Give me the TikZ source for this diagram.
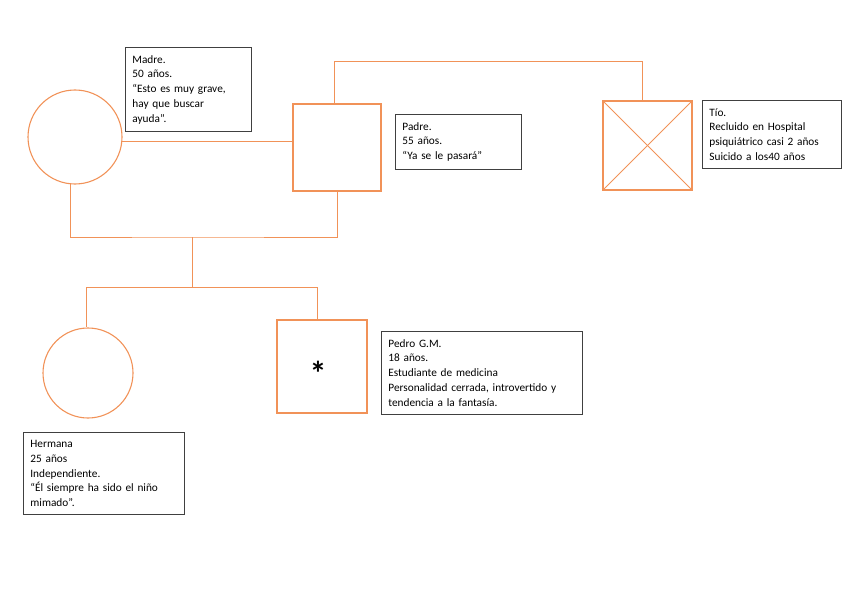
\documentclass[tikz,border=0pt]{standalone}
\usepackage{fontspec}
\setmainfont{Carlito}
\usepackage{tikz}
\usetikzlibrary{positioning,calc}
\definecolor{lazo}{RGB}{241,146,88}
\definecolor{marco}{RGB}{64,64,64}

\begin{document}
\begin{tikzpicture}[x=1pt,y=-1pt]
            \tikzset{
                mujer/.style={
                    draw=lazo,
                    line width=1.1pt,
                    circle,
                    inner sep=0pt
                }
            }
            \tikzset{
                hombre/.style={
                    draw=lazo,
                    line width=1.1pt,
                    rectangle,
                    inner sep=0pt
                }
            }
            \tikzset{
                nota/.style={
                    draw=marco,
                    line width=0.8pt,
                    anchor=north west,
                    align=left,
                    inner xsep=7pt,
                    inner ysep=8pt,
                    font=\fontsize{11.3}{14.7}\selectfont
                }
            }
            \tikzset{
                linea/.style={
                    lazo,
                    line width=1pt
                }
            }

            \useasboundingbox (0,0) rectangle (848,599);

            % padres y tio
            \node[mujer, minimum size=94pt] (madre) at (75,137) {};
            \node[hombre, minimum width=88pt, minimum height=87pt] (padre) at (337,147.5) {};
            \node[hombre, minimum width=89pt, minimum height=89pt] (tio) at (647.5,145.5) {};
            \draw[linea] (tio.north west) -- (tio.south east);
            \draw[linea] (tio.south west) -- (tio.north east);

            % hijos
            \node[mujer, minimum size=90pt] (hermana) at (88,373) {};
            \node[hombre, minimum width=90pt, minimum height=93pt] (pedro) at (322,366.5) {};
            \node[font=\fontsize{34}{34}\selectfont\bfseries] (asterisco) at ($(pedro.center)+(-4,7)$) {*};

            % notas
            \node[nota, text width=112pt] (nMadre) at (125,47) {Madre.\\50 años.\\“Esto es muy grave,\\hay que buscar\\ayuda”.};
            \node[nota, text width=112pt] (nPadre) at (395,114) {Padre.\\55 años.\\“Ya se le pasará”};
            \node[nota, text width=125pt] (nTio) at (702,100) {Tío.\\Recluido en Hospital\\psiquiátrico casi 2 años\\Suicido a los40 años};
            \node[nota, text width=187pt] (nPedro) at (381,331) {Pedro G.M.\\18 años.\\Estudiante de medicina\\Personalidad cerrada, introvertido y\\tendencia a la fantasía.};
            \node[nota, text width=147pt] (nHermana) at (23,432) {Hermana\\25 años\\Independiente.\\“Él siempre ha sido el niño\\mimado”.};

            % uniones
            \coordinate (union) at (192,237);
            \coordinate (hijos) at (192,287);
            \coordinate (arriba) at (334,62);
            \coordinate (bajaTio) at (642,62);
            \coordinate (bajaPedro) at (317,287);

            \draw[linea] (madre.-5) -- (madre.-5 -| padre.west);
            \draw[linea] (padre.north -| arriba) -- (arriba) -- (bajaTio) -- (bajaTio |- tio.north);
            \draw[linea] (madre.-96) |- (union) -| (padre.south);
            \draw[linea] (union) -- (hijos);
            \draw[linea] (hijos) -| (hermana.92);
            \draw[linea] (hijos) -- (bajaPedro) -- (bajaPedro |- pedro.north);
        \end{tikzpicture}
\end{document}
